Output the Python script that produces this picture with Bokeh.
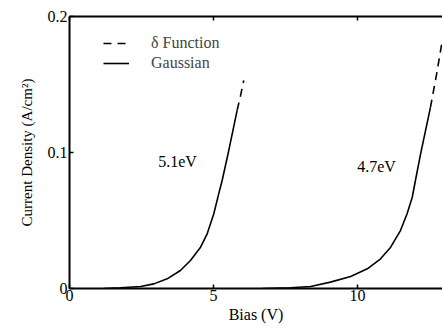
from bokeh.plotting import figure
from bokeh.models import Range1d, LinearAxis, FixedTicker, Legend, LegendItem, Label
from bokeh.embed import file_html
from bokeh.resources import INLINE

# Data
g1_x = [1.2, 1.77, 2.47, 2.93, 3.39, 3.85, 4.20, 4.55, 4.78, 5.01, 5.18, 5.30, 5.53, 5.82]
g1_y = [0.0, 0.0005, 0.0015, 0.0034, 0.0071, 0.0132, 0.0206, 0.0304, 0.0402, 0.055,
        0.0696, 0.0794, 0.1015, 0.131]
d1_x = [5.82, 5.94, 6.05]
d1_y = [0.131, 0.142, 0.153]

g2_x = [6.7, 7.67, 8.37, 9.06, 9.76, 10.34, 10.80, 11.15, 11.49, 11.72, 11.90, 12.01, 12.19, 12.53]
g2_y = [0.0, 0.0005, 0.0015, 0.0047, 0.0088, 0.0145, 0.0218, 0.0304, 0.0426, 0.055,
        0.0671, 0.0794, 0.099, 0.133]
d2_x = [12.53, 12.74, 12.94]
d2_y = [0.133, 0.157, 0.182]

x_ticks = [0, 5, 10]
y_ticks = [0, 0.1, 0.2]
y_tick_labels = {0: "0", 0.1: "0.1", 0.2: "0.2"}

labels = ["5.1eV", "4.7eV"]
label_x = [3.75, 10.66]
label_y = [0.0934, 0.0897]

FONT = "Liberation Serif"

p = figure(width=442, height=329, output_backend="svg", toolbar_location=None,
           x_range=Range1d(0, 12.95), y_range=Range1d(0, 0.2),
           min_border_left=69, min_border_right=0, min_border_top=16, min_border_bottom=41,
           x_axis_location=None, y_axis_location=None)
p.outline_line_color = None
p.xgrid.visible = False
p.ygrid.visible = False
p.background_fill_color = "white"
p.border_fill_color = "white"

def style(ax):
    ax.axis_line_width = 2
    ax.axis_line_color = "black"
    ax.major_tick_in = 4
    ax.major_tick_out = 0
    ax.minor_tick_line_color = None
    ax.major_tick_line_width = 1.5
    ax.major_label_text_font = FONT
    ax.major_label_text_font_size = "16px"
    ax.major_label_text_color = "black"
    ax.axis_label_text_font = FONT
    ax.axis_label_text_font_size = "16px"
    ax.axis_label_text_font_style = "normal"
    ax.axis_label_text_color = "black"

xb = LinearAxis(ticker=FixedTicker(ticks=x_ticks), axis_label="Bias (V)")
style(xb)
xb.major_label_standoff = 1
xb.axis_label_standoff = 2
p.add_layout(xb, "below")

xt = LinearAxis(ticker=FixedTicker(ticks=x_ticks),
                major_label_overrides={0: "", 5: "", 10: ""})
style(xt)
xt.major_label_standoff = 0
p.add_layout(xt, "above")

yl = LinearAxis(ticker=FixedTicker(ticks=y_ticks), axis_label="Current Density (A/cm²)",
                major_label_overrides=y_tick_labels)
style(yl)
yl.axis_label_text_font_size = "15px"
yl.major_label_standoff = 2
yl.axis_label_standoff = 10
p.add_layout(yl, "left")

r_g1 = p.line(g1_x, g1_y, line_color="black", line_width=1.6)
r_d1 = p.line(d1_x, d1_y, line_color="black", line_width=1.6, line_dash="8 6")
r_g2 = p.line(g2_x, g2_y, line_color="black", line_width=1.6)
r_d2 = p.line(d2_x, d2_y, line_color="black", line_width=1.6, line_dash="8 6")

for t, lx, ly in zip(labels, label_x, label_y):
    p.add_layout(Label(x=lx, y=ly, text=t, text_font=FONT, text_font_size="16px",
                       text_color="black", text_align="center", text_baseline="middle"))

legend = Legend(items=[LegendItem(label="δ Function", renderers=[r_d1]),
                       LegendItem(label="Gaussian", renderers=[r_g1])],
                location=(34, 215), padding=0, margin=0, spacing=0,
                glyph_width=26, glyph_height=20, label_height=20, label_standoff=22,
                label_text_font=FONT, label_text_font_size="16px",
                border_line_color=None, background_fill_alpha=0)
p.add_layout(legend, "center")

open("out.html", "w").write(file_html(p, INLINE))
